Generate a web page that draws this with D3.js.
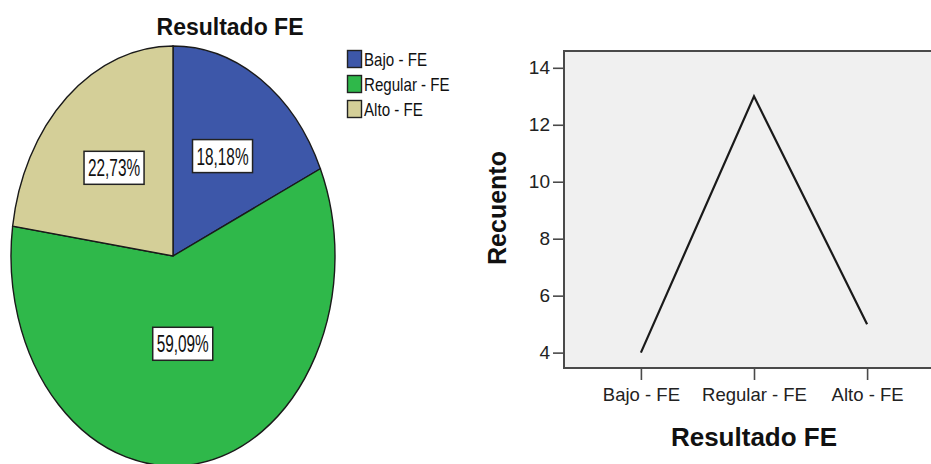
<!DOCTYPE html>
<html>
<head>
<meta charset="utf-8">
<script src="https://cdn.jsdelivr.net/npm/d3@7"></script>
<style>
  html, body { margin: 0; padding: 0; background: #fff; }
  svg { display: block; font-family: "Liberation Sans", Arial, sans-serif; }
</style>
</head>
<body>
<svg id="chart" width="931" height="464"></svg>
<script>
// Resultado FE: frequency counts per category
const categories = ["Bajo - FE", "Regular - FE", "Alto - FE"];
const counts = [4, 13, 5];
const sliceColors = ["#3d57a9", "#2fb84a", "#d4cf98"];
const yTicks = [4, 6, 8, 10, 12, 14];
const titleText = "Resultado FE";
const yTitle = "Recuento";

const svg = d3.select("#chart");
const total = d3.sum(counts);
const pctFmt = v => d3.format(".2f")(v).replace(".", ",") + "%";

// ---------- Pie (left) ----------
const cx = 173, cy = 256, rx = 162, ry = 210;
const pie = d3.pie().sort(null).value(d => d.value);
const arcs = pie(categories.map((c, i) => ({ name: c, value: counts[i], color: sliceColors[i] })));
const arc = d3.arc().innerRadius(0).outerRadius(ry);

const pieG = svg.append("g").attr("transform", `translate(${cx},${cy}) scale(${rx / ry},1)`);
pieG.selectAll("path").data(arcs).join("path")
  .attr("d", arc)
  .attr("fill", d => d.data.color)
  .attr("stroke", "#1a1a1a")
  .attr("stroke-width", 1.4)
  .attr("vector-effect", "non-scaling-stroke");

// value labels: placed between the sector's area centroid and mid-radius
const labelG = svg.append("g");
arcs.forEach(d => {
  const half = (d.endAngle - d.startAngle) / 2;
  const mid = d.startAngle + half;
  const centroidFrac = (2 * Math.sin(half)) / (3 * half);
  const frac = (centroidFrac + 0.5) / 2;
  const x = cx + Math.sin(mid) * rx * frac;
  const y = cy - Math.cos(mid) * ry * frac;
  const g = labelG.append("g").attr("transform", `translate(${x},${y})`);
  const rect = g.append("rect");
  const t = g.append("text")
    .attr("text-anchor", "middle")
    .attr("font-size", 24)
    .attr("fill", "#111")
    .attr("transform", "scale(0.64,1)")
    .attr("y", 8.5)
    .text(pctFmt(d.data.value / total * 100));
  const w = t.node().getComputedTextLength() * 0.64 + 8;
  rect.attr("x", -w / 2).attr("y", -16.5).attr("width", w).attr("height", 33)
    .attr("fill", "#fff").attr("stroke", "#222").attr("stroke-width", 1.5);
});

// pie title
svg.append("text")
  .attr("x", 230).attr("y", 35)
  .attr("text-anchor", "middle")
  .attr("font-size", 23).attr("font-weight", "bold")
  .attr("fill", "#111")
  .text(titleText);

// legend
const legend = svg.append("g").attr("transform", "translate(347,50)");
categories.forEach((c, i) => {
  const row = legend.append("g").attr("transform", `translate(0,${i * 25})`);
  row.append("rect").attr("x", 0.5).attr("y", 0.5).attr("width", 14).attr("height", 17)
    .attr("fill", sliceColors[i]).attr("stroke", "#222").attr("stroke-width", 1.4);
  row.append("text")
    .attr("transform", "translate(17,16) scale(0.84,1)")
    .attr("font-size", 18).attr("fill", "#111")
    .text(c);
});

// ---------- Line chart (right) ----------
const plot = { left: 564, right: 944, top: 51, bottom: 368 };
const x = d3.scalePoint().domain(categories).range([plot.left, plot.right]).padding(0.68);
const y = d3.scaleLinear().domain([3.46, 14.59]).range([plot.bottom, plot.top]);

svg.append("rect")
  .attr("x", plot.left).attr("y", plot.top)
  .attr("width", plot.right - plot.left).attr("height", plot.bottom - plot.top)
  .attr("fill", "#f0f0f0").attr("stroke", "#4a4a4a").attr("stroke-width", 2);

const yAxis = svg.append("g")
  .attr("transform", `translate(${plot.left - 1},0)`)
  .call(d3.axisLeft(y).tickValues(yTicks).tickSize(10).tickPadding(3).tickFormat(d3.format("d")));
yAxis.select(".domain").remove();
yAxis.selectAll(".tick line").attr("stroke", "#4a4a4a").attr("stroke-width", 1.6);
yAxis.selectAll(".tick text").attr("font-size", 19).attr("fill", "#222")
  .attr("font-family", "'Liberation Sans', Arial, sans-serif");

const xAxis = svg.append("g")
  .attr("transform", `translate(0,${plot.bottom + 1})`)
  .call(d3.axisBottom(x).tickSize(11).tickPadding(8));
xAxis.select(".domain").remove();
xAxis.selectAll(".tick line").attr("stroke", "#4a4a4a").attr("stroke-width", 1.6);
xAxis.selectAll(".tick text").attr("font-size", 18.5).attr("fill", "#222")
  .attr("font-family", "'Liberation Sans', Arial, sans-serif");

const line = d3.line().x((d, i) => x(categories[i])).y(d => y(d));
svg.append("path")
  .datum(counts)
  .attr("d", line)
  .attr("fill", "none")
  .attr("stroke", "#1a1a1a")
  .attr("stroke-width", 2.2);

// axis titles
svg.append("text")
  .attr("transform", "translate(506,208) rotate(-90)")
  .attr("text-anchor", "middle")
  .attr("font-size", 25).attr("font-weight", "bold").attr("fill", "#111")
  .text(yTitle);

svg.append("text")
  .attr("x", 754).attr("y", 446)
  .attr("text-anchor", "middle")
  .attr("font-size", 26).attr("font-weight", "bold").attr("fill", "#111")
  .text(titleText);
</script>
</body>
</html>
